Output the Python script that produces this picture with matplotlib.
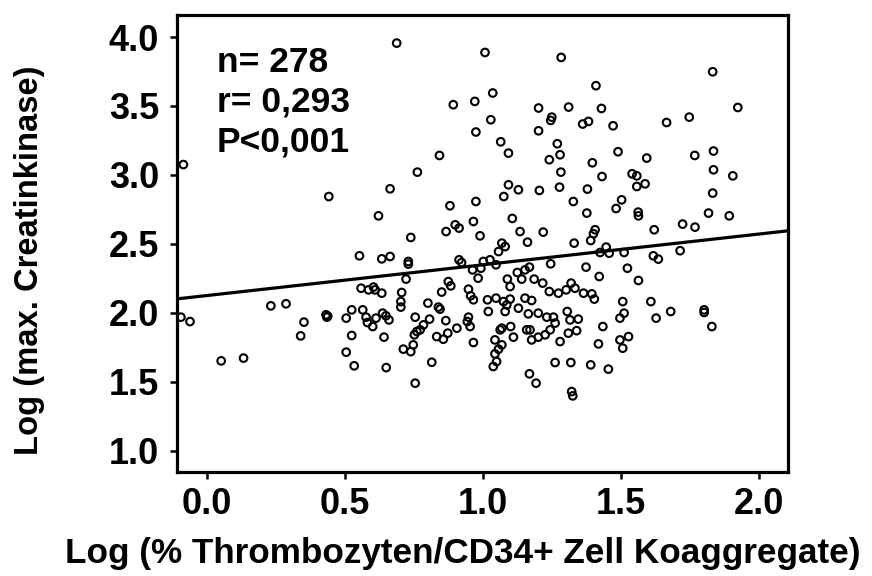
import matplotlib
matplotlib.use("Agg")
import matplotlib.pyplot as plt
import numpy as np

plt.rcParams['font.family'] = ['Liberation Sans', 'DejaVu Sans']
plt.rcParams['font.weight'] = 'bold'

# log(% platelet/CD34+ coaggregates) vs log(max. creatine kinase)
pts = [
    # upper left part
    (0.687, 3.956), (0.892, 3.509), (0.970, 3.533), (0.974, 3.311), (0.842, 3.141),
    (0.762, 3.020), (0.663, 2.899), (0.441, 2.843), (0.621, 2.703), (0.880, 2.776),
    (0.974, 2.807), (0.899, 2.638), (0.913, 2.614), (0.866, 2.589), (0.965, 2.662),
    (0.738, 2.546), (-0.086, 3.075),
    # upper right part
    (1.007, 3.888), (1.283, 3.852), (1.832, 3.748), (1.409, 3.647), (1.035, 3.594),
    (1.923, 3.489), (1.201, 3.485), (1.310, 3.492), (1.429, 3.482), (1.249, 3.419),
    (1.245, 3.395), (1.028, 3.400), (1.361, 3.369), (1.382, 3.388), (1.471, 3.356),
    (1.665, 3.380), (1.747, 3.419), (1.201, 3.320), (1.064, 3.240), (1.092, 3.158),
    (1.269, 3.226), (1.279, 3.146), (1.240, 3.110), (1.489, 3.168), (1.593, 3.122),
    (1.767, 3.141), (1.835, 3.173), (1.396, 3.088), (1.282, 3.020), (1.431, 2.988),
    (1.540, 3.008), (1.557, 2.993), (1.557, 2.916), (1.587, 2.935), (1.835, 3.037),
    (1.905, 2.993), (1.092, 2.928), (1.128, 2.892), (1.075, 2.843), (1.204, 2.887),
    (1.277, 2.911), (1.378, 2.897), (1.327, 2.807), (1.502, 2.819), (1.482, 2.756),
    (1.562, 2.730), (1.563, 2.703), (1.376, 2.723), (1.832, 2.868), (1.817, 2.723),
    (1.892, 2.703), (1.106, 2.684), (1.134, 2.589), (0.989, 2.558), (1.218, 2.585),
    (1.161, 2.512), (1.068, 2.505), (1.080, 2.480), (1.406, 2.602), (1.400, 2.573),
    (1.390, 2.524), (1.330, 2.505), (1.620, 2.602), (1.723, 2.643), (1.768, 2.621),
    (1.446, 2.476), (1.714, 2.450),
    # lower left part
    (0.552, 2.413), (0.633, 2.391), (0.663, 2.408), (0.729, 2.372), (0.729, 2.353),
    (0.913, 2.384), (0.922, 2.364), (0.721, 2.244), (0.558, 2.178), (0.585, 2.166),
    (0.603, 2.186), (0.609, 2.166), (0.633, 2.142), (0.705, 2.147), (0.702, 2.081),
    (0.702, 2.041), (0.874, 2.226), (0.883, 2.195), (0.850, 2.150), (0.947, 2.171),
    (0.955, 2.123), (0.965, 2.094), (0.962, 2.311), (0.982, 2.251), (0.231, 2.050),
    (0.286, 2.065), (-0.095, 1.968), (-0.062, 1.936), (0.351, 1.932), (0.339, 1.832),
    (0.431, 1.985), (0.434, 1.968), (0.437, 1.975), (0.524, 2.021), (0.504, 1.961),
    (0.564, 2.021), (0.576, 1.968), (0.581, 1.929), (0.600, 1.900), (0.612, 1.961),
    (0.636, 1.997), (0.648, 1.978), (0.659, 1.948), (0.524, 1.835), (0.641, 1.823),
    (0.504, 1.714), (0.533, 1.615), (0.649, 1.602), (0.754, 1.968), (0.806, 1.954),
    (0.800, 2.070), (0.838, 2.041), (0.844, 2.026), (0.865, 1.943), (0.905, 1.888),
    (0.947, 1.968), (0.943, 1.936), (0.953, 1.900), (0.784, 1.912), (0.772, 1.876),
    (0.760, 1.864), (0.751, 1.840), (0.832, 1.827), (0.856, 1.808), (0.872, 1.852),
    (0.965, 1.784), (0.711, 1.736), (0.738, 1.718), (0.747, 1.767), (0.814, 1.641),
    (0.754, 1.489), (0.051, 1.651), (0.132, 1.671),
    # lower right part
    (1.056, 2.444), (1.457, 2.432), (1.424, 2.437), (1.511, 2.437), (1.617, 2.413),
    (1.635, 2.389), (0.992, 2.323), (1.025, 2.384), (1.001, 2.372), (1.047, 2.348),
    (1.088, 2.244), (1.098, 2.190), (1.124, 2.292), (1.140, 2.244), (1.152, 2.311),
    (1.168, 2.331), (1.185, 2.244), (1.216, 2.215), (1.245, 2.355), (1.240, 2.154),
    (1.273, 2.142), (1.301, 2.166), (1.319, 2.215), (1.333, 2.178), (1.364, 2.142),
    (1.394, 2.137), (1.403, 2.099), (1.373, 2.331), (1.421, 2.263), (1.523, 2.323),
    (1.563, 2.234), (1.016, 2.094), (1.047, 2.106), (1.074, 2.081), (1.086, 2.057),
    (1.098, 2.099), (1.019, 2.009), (1.080, 2.009), (1.128, 2.033), (1.152, 2.106),
    (1.176, 2.089), (1.200, 1.997), (1.231, 1.968), (1.255, 1.968), (1.261, 1.925),
    (1.164, 1.992), (1.158, 1.876), (1.305, 2.009), (1.315, 1.948), (1.345, 1.954),
    (1.506, 2.081), (1.511, 1.997), (1.496, 1.961), (1.608, 2.081), (1.680, 2.009),
    (1.627, 1.961), (1.801, 2.021), (1.801, 2.002), (1.829, 1.900), (1.434, 1.900),
    (1.339, 1.870), (1.309, 1.852), (1.279, 1.791), (1.243, 1.876), (1.225, 1.840),
    (1.200, 1.823), (1.176, 1.803), (1.170, 1.876), (1.068, 1.888), (1.062, 1.876),
    (1.100, 1.900), (1.110, 1.823), (1.043, 1.803), (1.068, 1.767), (1.056, 1.736),
    (1.043, 1.702), (1.049, 1.646), (1.037, 1.610), (1.261, 1.639), (1.318, 1.639),
    (1.390, 1.622), (1.454, 1.591), (1.168, 1.557), (1.192, 1.489), (1.321, 1.428),
    (1.325, 1.397), (1.418, 1.774), (1.496, 1.803), (1.506, 1.743), (1.527, 1.827),
]
x = [p[0] for p in pts]
y = [p[1] for p in pts]

# regression line as drawn in the figure
fit_intercept = 2.125
fit_slope = 0.223

stats_lines = ["n= 278", "r= 0,293", "P<0,001"]
xticks = [0.0, 0.5, 1.0, 1.5, 2.0]
yticks = [1.0, 1.5, 2.0, 2.5, 3.0, 3.5, 4.0]

fig = plt.figure(figsize=(8.72, 5.76), dpi=100)
ax = fig.add_axes([0.203, 0.1806, 0.7007, 0.7934])

ax.scatter(x, y, s=30, facecolors='none', edgecolors='black', linewidths=1.5, zorder=3)

xl = (-0.109, 2.105)
xx = np.array(xl)
ax.plot(xx, fit_intercept + fit_slope * xx, color='black', lw=2.3, zorder=4)

ax.set_xlim(*xl)
ax.set_ylim(0.845, 4.16)
ax.set_xticks(xticks)
ax.set_yticks(yticks)
ax.set_xticklabels([f"{t:.1f}" for t in xticks])
ax.set_yticklabels([f"{t:.1f}" for t in yticks])

for s in ax.spines.values():
    s.set_linewidth(2.3)
ax.tick_params(axis='both', which='major', length=5, width=1.8, labelsize=26)
ax.tick_params(axis='x', pad=6)
ax.tick_params(axis='y', pad=8)

for i, line in enumerate(stats_lines):
    ax.text(0.065, 0.876 - i * 0.0875, line, transform=ax.transAxes,
            fontsize=25.5, fontweight='bold', va='baseline', ha='left')

fig.text(463 / 872, 1 - 553 / 576, "Log (% Thrombozyten/CD34+ Zell Koaggregate)",
         ha='center', va='center', fontsize=25.3, fontweight='bold')
fig.text(30 / 872, 1 - 260 / 576, "Log (max. Creatinkinase)", rotation=90,
         ha='center', va='center', fontsize=23.6, fontweight='bold')

fig.savefig("out.png", dpi=100)
